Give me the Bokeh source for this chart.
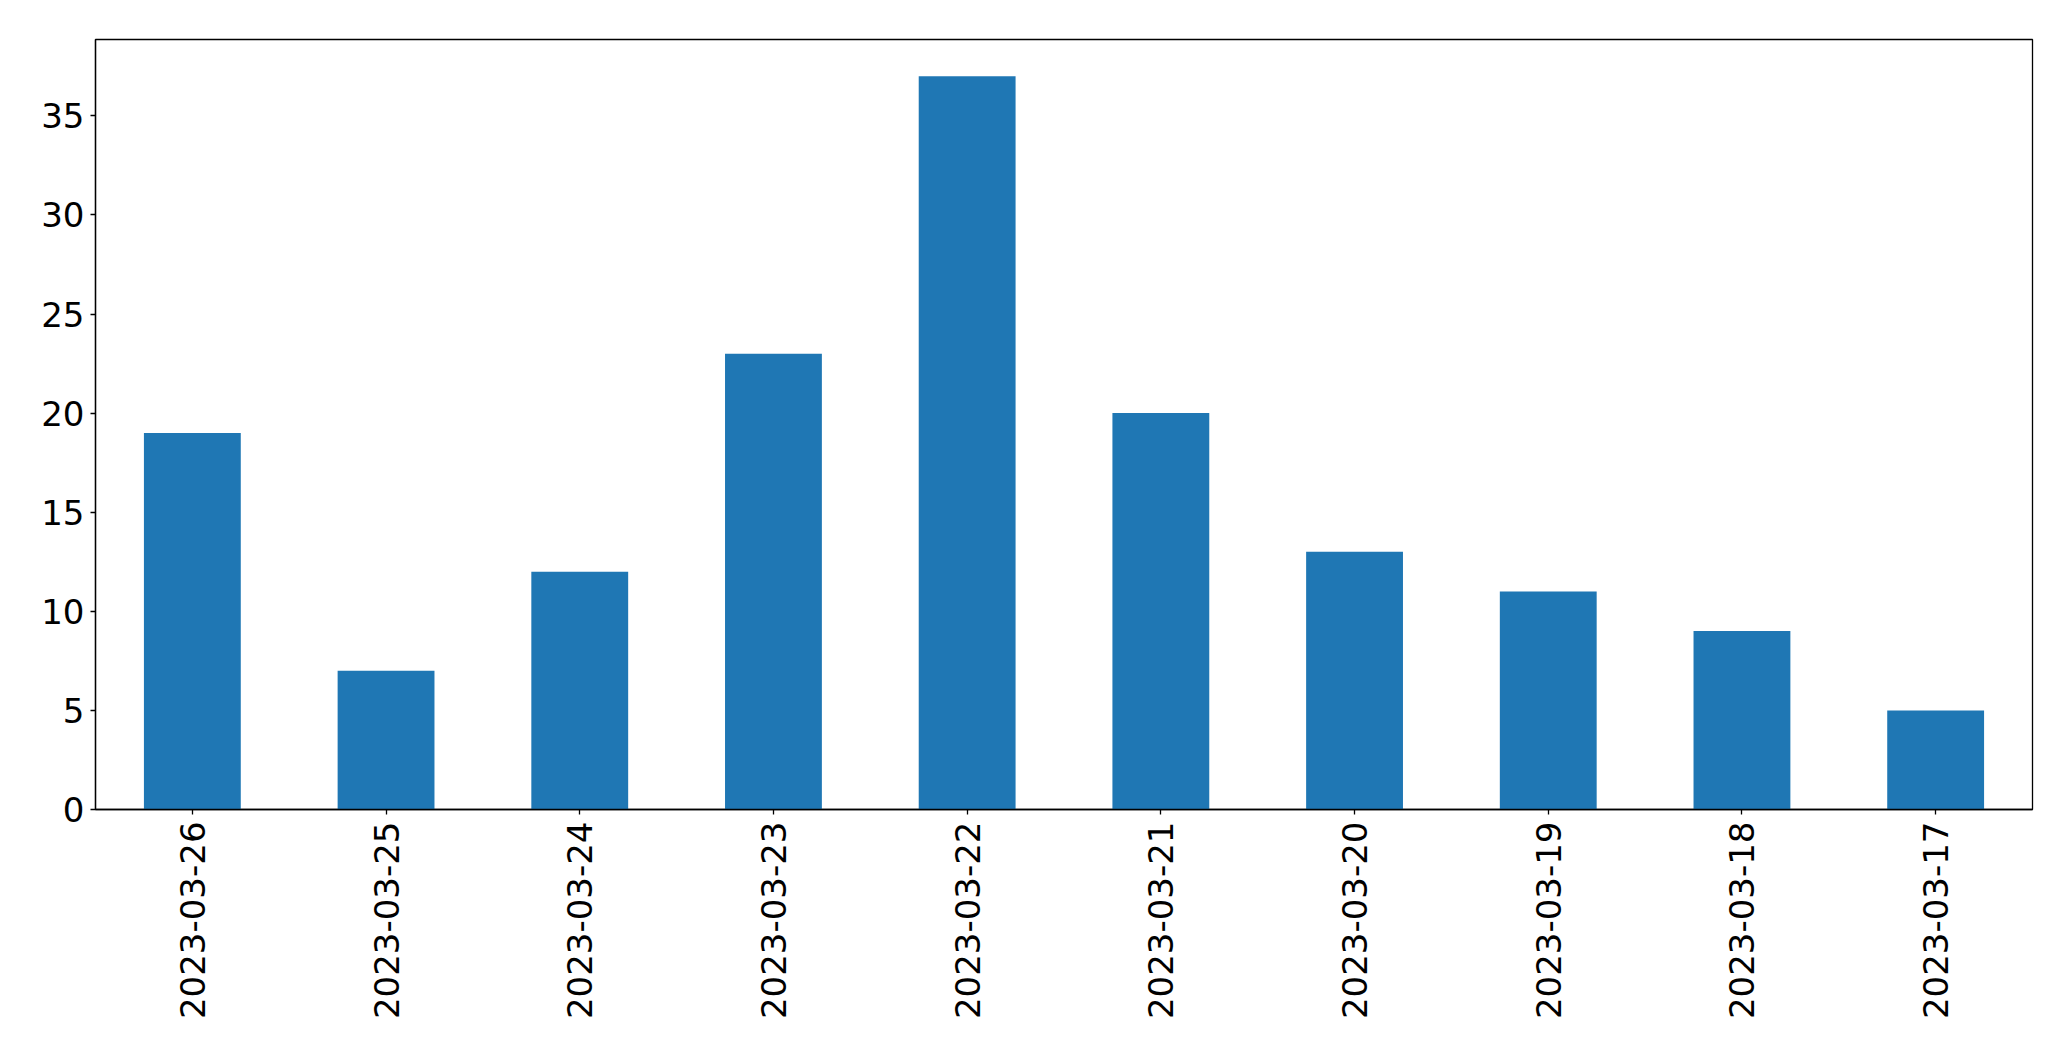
import math
from bokeh.plotting import figure
from bokeh.models import FactorRange, Range1d, FixedTicker
from bokeh.embed import file_html
from bokeh.resources import INLINE

dates = ["2023-03-26", "2023-03-25", "2023-03-24", "2023-03-23", "2023-03-22",
         "2023-03-21", "2023-03-20", "2023-03-19", "2023-03-18", "2023-03-17"]
counts = [19, 7, 12, 23, 37, 20, 13, 11, 9, 5]
y_ticks = [0, 5, 10, 15, 20, 25, 30, 35]

p = figure(width=2055, height=1045,
           x_range=FactorRange(factors=dates, range_padding=0),
           y_range=Range1d(0, 38.85),
           output_backend="svg", toolbar_location=None,
           min_border_left=95, min_border_right=23,
           min_border_top=39, min_border_bottom=236)

p.vbar(x=dates, top=counts, width=0.5, color="#1f77b4", line_color=None)

p.xgrid.visible = False
p.ygrid.visible = False
p.outline_line_color = "black"
p.outline_line_width = 1.3
p.outline_line_alpha = 1

for ax in (p.xaxis[0], p.yaxis[0]):
    ax.axis_line_color = "black"
    ax.axis_line_width = 1.3
    ax.major_tick_line_color = "black"
    ax.major_tick_line_width = 1.3
    ax.major_tick_out = 5
    ax.major_tick_in = 0
    ax.minor_tick_line_color = None
    ax.major_label_text_font = "DejaVu Sans"
    ax.major_label_text_font_size = "34px"
    ax.major_label_text_color = "black"

p.yaxis[0].ticker = FixedTicker(ticks=y_ticks)
p.yaxis[0].major_label_standoff = 6
p.xaxis[0].major_label_orientation = math.pi / 2
p.xaxis[0].major_label_standoff = 7

open("out.html", "w").write(file_html(p, INLINE))
